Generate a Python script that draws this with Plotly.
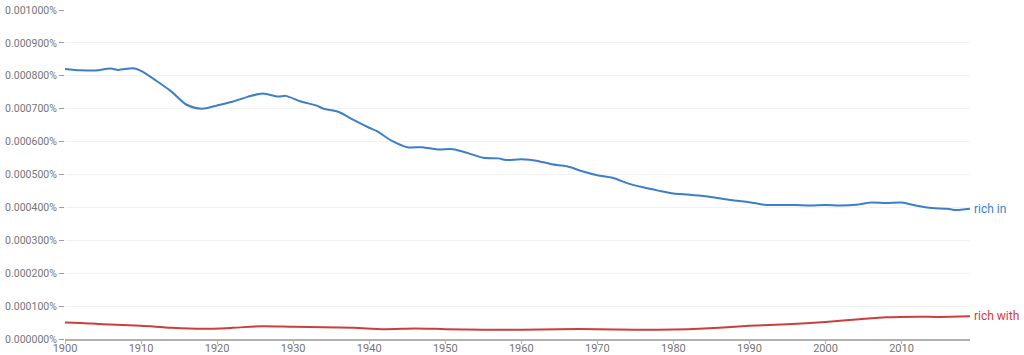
import plotly.graph_objects as go

years_in = [1900, 1902, 1904, 1906, 1907, 1909, 1910, 1912, 1914, 1916, 1918, 1920, 1922, 1924, 1926,
            1928, 1929, 1931, 1933, 1934, 1936, 1938, 1940, 1941, 1943, 1945, 1947, 1949, 1951,
            1953, 1955, 1957, 1958, 1960, 1962, 1964, 1966, 1968, 1970, 1972, 1974, 1976, 1978,
            1980, 1982, 1984, 1986, 1988, 1990, 1992, 1994, 1996, 1998, 2000, 2002, 2004, 2006,
            2008, 2010, 2012, 2014, 2016, 2017, 2019]
rich_in = [0.000821, 0.000817, 0.000816, 0.000822, 0.000818, 0.000823, 0.000815, 0.000785, 0.000752,
           0.000712, 0.000700, 0.000710, 0.000721, 0.000736, 0.000746, 0.000737, 0.000739,
           0.000722, 0.000710, 0.000700, 0.000690, 0.000665, 0.000642, 0.000632, 0.000602,
           0.000583, 0.000583, 0.000576, 0.000577, 0.000565, 0.000551, 0.000549, 0.000544,
           0.000546, 0.000542, 0.000531, 0.000525, 0.000510, 0.000498, 0.000490, 0.000473,
           0.000461, 0.000451, 0.000442, 0.000439, 0.000435, 0.000428, 0.000421, 0.000416,
           0.000408, 0.000407, 0.000407, 0.000406, 0.000407, 0.000406, 0.000408, 0.000415,
           0.000413, 0.000415, 0.000405, 0.000398, 0.000396, 0.000392, 0.000396]

years_with = [1900, 1902, 1905, 1910, 1914, 1918, 1922, 1926, 1930, 1934, 1938, 1942, 1946, 1950,
              1955, 1960, 1965, 1970, 1975, 1978, 1982, 1986, 1990, 1995, 2000, 2004, 2008, 2012,
              2015, 2019]
rich_with = [0.000050, 0.000049, 0.000045, 0.000040, 0.000034, 0.000031, 0.000034, 0.000039,
             0.000037, 0.000036, 0.000034, 0.000030, 0.000032, 0.000030, 0.000028, 0.000028,
             0.000030, 0.000030, 0.000028, 0.000028, 0.000030, 0.000034, 0.000040, 0.000045,
             0.000052, 0.000059, 0.000066, 0.000068, 0.000067, 0.000069]

y_ticks = [i * 0.0001 for i in range(11)]
y_ticktext = [f"{v:.6f}%" for v in y_ticks]
x_ticks = list(range(1900, 2011, 10))

BLUE = "#3c7fc6"
RED = "#cc3d3d"
GREY = "#757575"

fig = go.Figure()
fig.add_trace(go.Scatter(x=years_in, y=rich_in, mode="lines", name="rich in",
                         line=dict(color=BLUE, width=2, shape="spline", smoothing=0.8)))
fig.add_trace(go.Scatter(x=years_with, y=rich_with, mode="lines", name="rich with",
                         line=dict(color=RED, width=2, shape="spline", smoothing=0.8)))

fig.add_annotation(x=years_in[-1], y=rich_in[-1], text="rich in", showarrow=False,
                   xanchor="left", xshift=2, font=dict(color=BLUE, size=12))
fig.add_annotation(x=years_with[-1], y=rich_with[-1], text="rich with", showarrow=False,
                   xanchor="left", xshift=2, font=dict(color=RED, size=12))

fig.update_layout(
    width=1024, height=355,
    margin=dict(l=65, r=54, t=10, b=16, autoexpand=False),
    paper_bgcolor="white", plot_bgcolor="white",
    showlegend=False,
    font=dict(family="Roboto, Arial, sans-serif", size=11, color=GREY),
    xaxis=dict(range=[1900, 2019], tickvals=x_ticks, showgrid=False, zeroline=False,
               showline=True, linecolor="#b0b0b0", linewidth=1.5,
               ticks="outside", ticklen=3, tickcolor="#b0b0b0",
               ticklabelstandoff=-5,
               tickfont=dict(size=11, color=GREY)),
    yaxis=dict(range=[0, 0.001], tickvals=y_ticks, ticktext=y_ticktext,
               showgrid=True, gridcolor="#f2f2f2", zeroline=False, showline=False,
               ticks="outside", ticklen=5, tickcolor="#9e9e9e",
               tickfont=dict(size=10.5, color=GREY)),
)

fig.write_html("out.html", config={"displayModeBar": False},
               post_script="document.body.style.margin='0';document.body.style.overflow='hidden';")
